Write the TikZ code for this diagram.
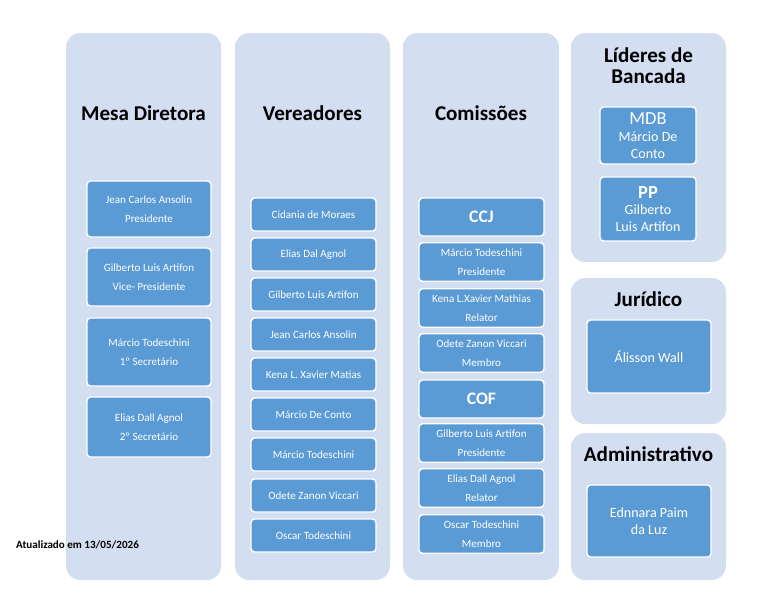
\documentclass[tikz,border=0pt]{standalone}
\usepackage{fontspec}
\setmainfont{Carlito}
\usetikzlibrary{positioning}
\definecolor{panelblue}{HTML}{D3DEF0}
\definecolor{boxblue}{HTML}{5B9BD5}
\tikzset{
  panel/.style={fill=panelblue, rounded corners=8pt, draw=none},
  member/.style={fill=boxblue, draw=white, line width=0.8pt, rounded corners=2pt,
    text=white, align=center, font=\fontsize{6.3}{8}\selectfont, inner sep=1pt},
  coltitle/.style={font=\bfseries\fontsize{12}{14}\selectfont, align=center},
}
\begin{document}
\begin{tikzpicture}[x=0.02cm, y=-0.02cm]
  \useasboundingbox (0,0) rectangle (768,595);
  % panels
  \draw[panel] (66,33) rectangle (221,580);
  \draw[panel] (235,33) rectangle (390,580);
  \draw[panel] (403,33) rectangle (559,580);
  \draw[panel] (571,33) rectangle (726,262);
  \draw[panel] (571,278) rectangle (726,424);
  \draw[panel] (571,433) rectangle (726,580);
  % titles
  \node[coltitle] (tmesa) at (143.5,113) {Mesa Diretora};
  \node[coltitle] (tver) at (312.5,113) {Vereadores};
  \node[coltitle] (tcom) at (481,113) {Comissões};
  \node[coltitle] (tlid) at (648.5,66) {Líderes de\\[-2pt]Bancada};
  \node[coltitle] (tjur) at (648.5,299) {Jurídico};
  \node[coltitle] (tadm) at (648.5,454) {Administrativo};
  % mesa diretora
  \foreach \name/\top/\bot/\txt in {
      m1/181/237/{Jean Carlos Ansolin\\[3pt]Presidente},
      m2/248/306/{Gilberto Luis Artifon\\[3pt]Vice- Presidente},
      m3/318/386/{Márcio Todeschini\\[3pt]1º Secretário},
      m4/397/457/{Elias Dall Agnol\\[3pt]2º Secretário}}
    \node[member, minimum width=2.48cm, minimum height={(\bot-\top)*0.02cm}]
      (\name) at (149,{(\top+\bot)/2}) {\txt};
  % vereadores
  \foreach \name/\top/\txt in {
      v1/198/{Cidania de Moraes}, v2/238/{Elias Dal  Agnol},
      v3/278/{Gilberto Luis Artifon}, v4/318/{Jean Carlos Ansolin},
      v5/358/{Kena L. Xavier Matias}, v6/398/{Márcio De Conto},
      v7/438/{Márcio Todeschini}, v8/479/{Odete Zanon Viccari},
      v9/519/{Oscar Todeschini}}
    \node[member, minimum width=2.5cm, minimum height=0.66cm]
      (\name) at (313.5,{\top+16.5}) {\txt};
  % comissoes
  \node[member, minimum width=2.5cm, minimum height=0.76cm,
    font=\bfseries\fontsize{10}{12}\selectfont] (ccj) at (481.5,217) {CCJ};
  \node[member, minimum width=2.5cm, minimum height=0.76cm,
    font=\bfseries\fontsize{10}{12}\selectfont] (cof) at (481.5,399) {COF};
  \foreach \name/\top/\txt in {
      c1/243/{Márcio Todeschini\\[3pt]Presidente},
      c2/289/{Kena L.Xavier Mathias\\[3pt]Relator},
      c3/334/{Odete Zanon Viccari\\[3pt]Membro},
      c4/424/{Gilberto Luis Artifon\\[3pt]Presidente},
      c5/469/{Elias Dall Agnol\\[3pt]Relator},
      c6/515/{Oscar Todeschini\\[3pt]Membro}}
    \node[member, minimum width=2.5cm, minimum height=0.77cm]
      (\name) at (481.5,{\top+19}) {\txt};
  % lideres
  \node[member, minimum width=1.92cm, minimum height=1.14cm,
    font=\fontsize{8}{9.5}\selectfont] (mdb) at (648,135.5)
    {{\fontsize{10.5}{12}\selectfont MDB}\\Márcio De\\Conto};
  \node[member, minimum width=1.92cm, minimum height=1.28cm,
    font=\fontsize{8}{9.5}\selectfont] (pp) at (648,209)
    {{\bfseries\fontsize{10.5}{12}\selectfont PP}\\Gilberto\\Luis Artifon};
  % juridico e administrativo
  \node[member, minimum width=2.48cm, minimum height=1.46cm,
    font=\fontsize{8}{9.5}\selectfont] (jur) at (649,356.5) {Álisson Wall};
  \node[member, minimum width=2.48cm, minimum height=1.44cm,
    font=\fontsize{8}{9.5}\selectfont] (adm) at (649,521) {Ednnara Paim\\da Luz};
  \node[anchor=west, font=\bfseries\fontsize{6.3}{8}\selectfont] (upd) at (10,545)
    {Atualizado em 13/05/2026};
\end{tikzpicture}
\end{document}
